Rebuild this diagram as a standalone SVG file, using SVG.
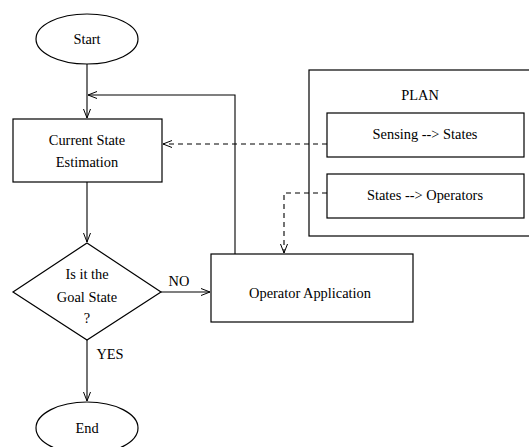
<svg xmlns="http://www.w3.org/2000/svg" width="529" height="447" viewBox="0 0 529 447">
<style>
.s{fill:none;stroke:#000;stroke-width:1.2}
.t{font-family:"Liberation Serif","Times New Roman",serif;font-size:14.4px;fill:#000;text-anchor:middle}
.c{fill:none;stroke:#000;stroke-width:1.1}
.d{fill:none;stroke:#000;stroke-width:1.1;stroke-dasharray:5,4}
</style>
<defs>
<marker id="a" markerWidth="12" markerHeight="10" refX="10" refY="5" orient="auto" markerUnits="userSpaceOnUse">
<path d="M1,1.5 L10,5 L1,8.5" fill="none" stroke="#000" stroke-width="1"/>
</marker>
</defs>
<rect width="529" height="447" fill="#fff"/>
<g id="start"><ellipse class="s" cx="87" cy="39" rx="51" ry="25"/><text class="t" x="87" y="44">Start</text></g>
<g id="cse"><rect class="s" x="13" y="119" width="149" height="63"/><text class="t" x="87" y="145">Current State</text><text class="t" x="87" y="167">Estimation</text></g>
<g id="goal"><polygon class="s" points="87,243 161,292 87,340 13,292"/><text class="t" x="87" y="279">Is it the</text><text class="t" x="87" y="302">Goal State</text><text class="t" x="87" y="323">?</text></g>
<g id="end"><ellipse class="s" cx="87" cy="428" rx="51" ry="26"/><text class="t" x="87" y="433">End</text></g>
<g id="opapp"><rect class="s" x="211" y="254" width="202" height="68"/><text class="t" x="310" y="298">Operator Application</text></g>
<g id="plan"><rect class="s" x="309" y="70" width="230" height="166"/><text class="t" x="420" y="100">PLAN</text></g>
<g id="sensing"><rect class="s" x="327" y="113" width="197" height="44"/><text class="t" x="425" y="139">Sensing --&gt; States</text></g>
<g id="states"><rect class="s" x="327" y="174" width="197" height="44"/><text class="t" x="425" y="200">States --&gt; Operators</text></g>
<g id="connectors">
<path class="c" d="M87,64 V118" marker-end="url(#a)"/>
<path class="c" d="M235,254 V95 H88" marker-end="url(#a)"/>
<path class="c" d="M87,182 V242" marker-end="url(#a)"/>
<path class="c" d="M161,292 H210" marker-end="url(#a)"/>
<path class="c" d="M87,340 V401" marker-end="url(#a)"/>
<path class="d" d="M327,144 H163" marker-end="url(#a)"/>
<path class="d" d="M327,193 H284 V253" marker-end="url(#a)"/>
<text class="t" x="179" y="286">NO</text>
<text class="t" x="110" y="359">YES</text>
</g>
</svg>
